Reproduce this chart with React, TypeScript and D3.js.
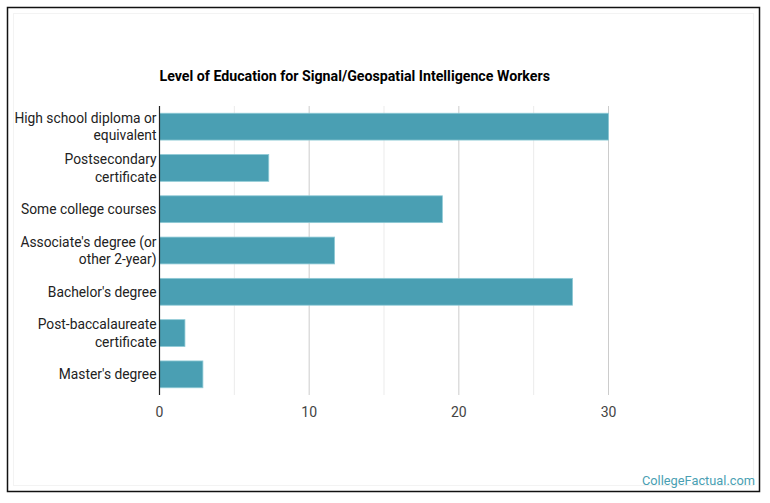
import React, { useEffect, useRef } from 'react';
import * as d3 from 'd3';

const categories = [
  ['High school diploma or', 'equivalent'],
  ['Postsecondary', 'certificate'],
  ['Some college courses'],
  ["Associate's degree (or", 'other 2-year)'],
  ["Bachelor's degree"],
  ['Post-baccalaureate', 'certificate'],
  ["Master's degree"],
];
const values = [30.0, 7.3, 18.9, 11.7, 27.6, 1.7, 2.9];
const majorTicks = [0, 10, 20, 30];
const minorTicks = [5, 15, 25];

const WIDTH = 770;
const HEIGHT = 503;
const FONT = 'Roboto, "Noto Sans", sans-serif';

export default function App() {
  const svgRef = useRef<SVGSVGElement>(null);

  useEffect(() => {
    if (!svgRef.current) return;
    const svg = d3.select(svgRef.current);
    svg.selectAll('*').remove();

    const plot = { left: 159.5, right: 608.5, top: 106, bottom: 395 };

    const x = d3.scaleLinear().domain([0, 30]).range([plot.left, plot.right]);
    const y = d3.scaleBand<number>()
      .domain(d3.range(values.length))
      .range([plot.top, plot.bottom])
      .paddingInner(0.35)
      .paddingOuter(0.175);

    // outer frame
    svg.append('rect')
      .attr('x', 7.5).attr('y', 7.5)
      .attr('width', 752).attr('height', 484)
      .attr('fill', '#fff')
      .attr('stroke', '#111')
      .attr('stroke-width', 1.5);

    svg.append('rect')
      .attr('x', 13.5).attr('y', 13.5)
      .attr('width', 740).attr('height', 472)
      .attr('fill', 'none')
      .attr('stroke', '#f3f3f3');

    // title
    svg.append('text')
      .attr('x', plot.left)
      .attr('y', 80.5)
      .attr('font-family', FONT)
      .attr('font-weight', 700)
      .attr('font-size', 14.2)
      .attr('fill', '#000')
      .text('Level of Education for Signal/Geospatial Intelligence Workers');

    // gridlines
    svg.append('g')
      .selectAll('line')
      .data(minorTicks)
      .join('line')
      .attr('x1', d => x(d)).attr('x2', d => x(d))
      .attr('y1', plot.top).attr('y2', plot.bottom)
      .attr('stroke', '#ebebeb');

    svg.append('g')
      .selectAll('line')
      .data(majorTicks.filter(d => d > 0))
      .join('line')
      .attr('x1', d => x(d)).attr('x2', d => x(d))
      .attr('y1', plot.top).attr('y2', plot.bottom)
      .attr('stroke', '#cccccc');

    // bars
    svg.append('g')
      .selectAll('rect')
      .data(values)
      .join('rect')
      .attr('x', x(0))
      .attr('y', (_, i) => y(i)!)
      .attr('width', d => x(d) - x(0))
      .attr('height', y.bandwidth())
      .attr('fill', '#4a9fb3')
      .attr('stroke', '#8fcad6')
      .attr('stroke-width', 0.8);

    // baseline axis
    svg.append('line')
      .attr('x1', x(0)).attr('x2', x(0))
      .attr('y1', plot.top).attr('y2', plot.bottom)
      .attr('stroke', '#222')
      .attr('stroke-width', 1.2);

    // tick labels
    svg.append('g')
      .selectAll('text')
      .data(majorTicks)
      .join('text')
      .attr('x', d => x(d))
      .attr('y', 417)
      .attr('text-anchor', 'middle')
      .attr('font-family', FONT)
      .attr('font-size', 14)
      .attr('fill', '#444')
      .text(d => d3.format('d')(d));

    // category labels
    const lineH = 17.5;
    const labels = svg.append('g');
    categories.forEach((lines, i) => {
      const cy = y(i)! + y.bandwidth() / 2;
      const t = labels.append('text')
        .attr('text-anchor', 'end')
        .attr('font-family', FONT)
        .attr('font-size', 13.8)
        .attr('fill', '#222');
      lines.forEach((ln, j) => {
        t.append('tspan')
          .attr('x', 156.5)
          .attr('y', cy + 5 + (j - (lines.length - 1) / 2) * lineH)
          .text(ln);
      });
    });

    // credit
    svg.append('text')
      .attr('x', 755)
      .attr('y', 485)
      .attr('text-anchor', 'end')
      .attr('font-family', FONT)
      .attr('font-size', 12.8)
      .attr('fill', '#4a9fb3')
      .text('CollegeFactual.com');
  }, []);

  return (
    <svg
      ref={svgRef}
      width={WIDTH}
      height={HEIGHT}
      style={{ position: 'absolute', left: 0, top: 0, background: '#fff' }}
    />
  );
}
